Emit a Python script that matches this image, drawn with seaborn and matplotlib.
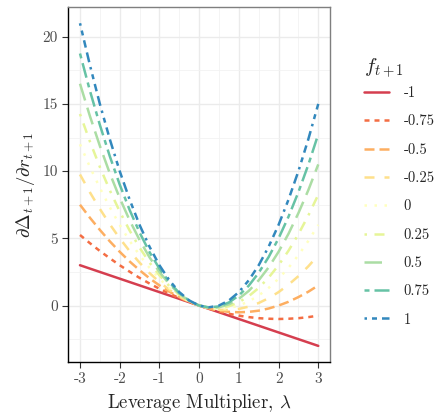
# Sensitivity of Delta to r for different f values, as a function of leverage multiplier

import numpy as np
import pandas as pd
import matplotlib
matplotlib.use("Agg")
import matplotlib.pyplot as plt
import seaborn as sns

# x grid (leverage multiplier) and values, one list per f_{t+1}
lam = [-3, -2.75, -2.5, -2.25, -2, -1.75, -1.5, -1.25, -1, -0.75, -0.5, -0.25, 0,
       0.25, 0.5, 0.75, 1, 1.25, 1.5, 1.75, 2, 2.25, 2.5, 2.75, 3]

y_m100 = [3, 2.75, 2.5, 2.25, 2, 1.75, 1.5, 1.25, 1, 0.75, 0.5, 0.25, 0,
          -0.25, -0.5, -0.75, -1, -1.25, -1.5, -1.75, -2, -2.25, -2.5, -2.75, -3]
y_m075 = [5.25, 4.64, 4.06, 3.52, 3.0, 2.52, 2.06, 1.64, 1.25, 0.89, 0.56, 0.27, 0,
          -0.23, -0.44, -0.61, -0.75, -0.86, -0.94, -0.98, -1.0, -0.98, -0.94, -0.86, -0.75]
y_m050 = [7.5, 6.53, 5.63, 4.78, 4.0, 3.28, 2.63, 2.03, 1.5, 1.03, 0.63, 0.28, 0,
          -0.22, -0.38, -0.47, -0.5, -0.47, -0.38, -0.22, 0, 0.28, 0.63, 1.03, 1.5]
y_m025 = [9.75, 8.42, 7.19, 6.05, 5.0, 4.05, 3.19, 2.42, 1.75, 1.17, 0.69, 0.30, 0,
          -0.20, -0.31, -0.33, -0.25, -0.08, 0.19, 0.55, 1.0, 1.55, 2.19, 2.92, 3.75]
y_p000 = [12, 10.31, 8.75, 7.31, 6, 4.81, 3.75, 2.81, 2, 1.31, 0.75, 0.31, 0,
          -0.19, -0.25, -0.19, 0, 0.31, 0.75, 1.31, 2, 2.81, 3.75, 4.81, 6]
y_p025 = [14.25, 12.20, 10.31, 8.58, 7.0, 5.58, 4.31, 3.20, 2.25, 1.45, 0.81, 0.33, 0,
          -0.17, -0.19, -0.05, 0.25, 0.70, 1.31, 2.08, 3.0, 4.08, 5.31, 6.70, 8.25]
y_p050 = [16.5, 14.09, 11.88, 9.84, 8.0, 6.34, 4.88, 3.59, 2.5, 1.59, 0.88, 0.34, 0,
          -0.16, -0.13, 0.09, 0.5, 1.09, 1.88, 2.84, 4.0, 5.34, 6.88, 8.59, 10.5]
y_p075 = [18.75, 15.98, 13.44, 11.11, 9.0, 7.11, 5.44, 3.98, 2.75, 1.73, 0.94, 0.36, 0,
          -0.14, -0.06, 0.23, 0.75, 1.48, 2.44, 3.61, 5.0, 6.61, 8.44, 10.48, 12.75]
y_p100 = [21, 17.88, 15, 12.38, 10, 7.88, 6, 4.38, 3, 1.88, 1, 0.38, 0,
          -0.13, 0, 0.38, 1, 1.88, 3, 4.38, 6, 7.88, 10, 12.38, 15]

f_labels = ["-1", "-0.75", "-0.5", "-0.25", "0", "0.25", "0.5", "0.75", "1"]
series = [y_m100, y_m075, y_m050, y_m025, y_p000, y_p025, y_p050, y_p075, y_p100]

# Long table for seaborn
rows = []
for lab, ys in zip(f_labels, series):
    for x, y in zip(lam, ys):
        rows.append((x, y, lab))
df = pd.DataFrame(rows, columns=["lam", "val", "f"])

# Spectral colours and ggplot-like linetypes
colors = ["#d53e4f", "#f46d43", "#fdae61", "#fee08b", "#ffffbf",
          "#e6f598", "#abdda4", "#66c2a5", "#3288bd"]
palette = dict(zip(f_labels, colors))
dash_list = ["", (2, 2), (4, 2), (4, 4), (1, 3), (1, 3, 4, 3), (7, 3),
             (2, 2, 6, 2), (1, 2, 2, 2, 3, 2, 4, 2)]
dashes = dict(zip(f_labels, dash_list))

sns.set_style("whitegrid")
plt.rcParams['font.family'] = ['cmr10']
plt.rcParams['mathtext.fontset'] = 'cm'
plt.rcParams['axes.unicode_minus'] = False
plt.rcParams['axes.formatter.use_mathtext'] = True

fig = plt.figure(figsize=(4.45, 4.19), dpi=100)
ax = fig.add_axes([0.153, 0.136, 0.589, 0.847])

sns.lineplot(data=df, x="lam", y="val", hue="f", style="f",
             hue_order=f_labels, style_order=f_labels,
             palette=palette, dashes=dashes, linewidth=1.8, ax=ax)

ax.set_xlim(-3.3, 3.3)
ax.set_ylim(-4.2, 22.2)
ax.set_xticks([-3, -2, -1, 0, 1, 2, 3])
ax.set_xticklabels(["-3", "-2", "-1", "0", "1", "2", "3"])
ax.set_yticks([0, 5, 10, 15, 20])
ax.set_yticklabels(["0", "5", "10", "15", "20"])
ax.set_xticks(np.arange(-2.5, 3, 1), minor=True)
ax.set_yticks([-2.5, 2.5, 7.5, 12.5, 17.5], minor=True)

ax.grid(which='major', color='#ebebeb', linewidth=1.0)
ax.grid(which='minor', color='#f2f2f2', linewidth=0.6)
ax.set_axisbelow(True)

for pos in ['left', 'bottom']:
    ax.spines[pos].set_color('black')
    ax.spines[pos].set_linewidth(1.0)
for pos in ['top', 'right']:
    ax.spines[pos].set_color('#7f7f7f')
    ax.spines[pos].set_linewidth(1.0)

ax.tick_params(axis='both', which='major', length=4, width=0.8, color='#333333',
               labelsize=11, labelcolor='#4d4d4d', left=True, bottom=True)
ax.tick_params(axis='both', which='minor', length=0)

ax.set_xlabel(r"Leverage Multiplier, $\lambda$", fontsize=13.5)
ax.set_ylabel(r"$\partial\Delta_{t+1}/\partial r_{t+1}$", fontsize=13.5)

leg = ax.legend(title=r"$f_{t+1}$", loc='upper left', bbox_to_anchor=(1.08, 0.90),
                frameon=False, fontsize=10.5, title_fontsize=15,
                handlelength=1.7, labelspacing=1.0, handletextpad=1.0)
leg._legend_box.align = "left"
leg._legend_box.sep = 5

plt.savefig("out.png", dpi=100)
plt.close()
